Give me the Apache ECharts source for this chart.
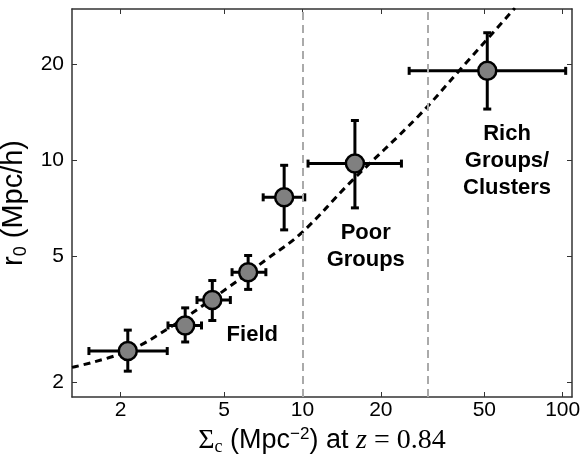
<!DOCTYPE html>
<html>
<head>
<meta charset="utf-8">
<script src="https://cdn.jsdelivr.net/npm/echarts@6/dist/echarts.min.js"></script>
<style>
  html, body { margin: 0; padding: 0; background: #fff; }
  #main { width: 582px; height: 454px; }
</style>
</head>
<body>
<div id="main"></div>
<script>
var chartDom = document.getElementById('main');
var myChart = echarts.init(chartDom);
var option;

// axis ranges and tick values (data units, log axes)
let xRange = [1.3, 108.6];
let yRange = [1.8, 29.8];
let xTicks = [2, 5, 10, 20, 50, 100];
let yTicks = [2, 5, 10, 20];

// measured points with error bars
let sigma   = [2.13, 3.54, 4.50, 6.18, 8.50, 15.9, 51.3];
let sigmaLo = [1.51, 3.04, 3.93, 5.36, 7.06, 10.5, 25.7];
let sigmaHi = [3.02, 4.09, 5.28, 7.23, 10.2, 24.0, 102.7];
let r0      = [2.51, 3.02, 3.63, 4.44, 7.63, 9.74, 19.05];
let r0Lo    = [2.17, 2.68, 3.13, 3.92, 6.03, 7.07, 14.45];
let r0Hi    = [2.92, 3.43, 4.18, 5.01, 9.62, 13.3, 25.1];

// dashed fit curve
let fitSigma = [1.30, 2.13, 3.18, 4.50, 7.27, 9.91, 15.2, 27.8, 40.3, 65.5];
let fitR0    = [2.23, 2.51, 3.02, 3.66, 4.87, 5.90, 8.47, 13.7, 19.2, 30.0];

// environment boundaries and region labels
let boundaries = [10, 30];
let regionNames = ['Field', 'Poor\nGroups', 'Rich\nGroups/\nClusters'];
let regionSigma = [6.41, 17.5, 61.1];
let regionR0    = [2.83, 5.35, 9.95];

const lg = Math.log10;
const sans = 'Liberation Sans, Arial, Helvetica, sans-serif';
const serif = 'Liberation Serif, DejaVu Serif, serif';
const fmt = function (v) { return String(Math.round(Math.pow(10, v))); };

let errData = [];
let ptData = [];
for (var i = 0; i < sigma.length; i++) {
  errData.push([lg(sigma[i]), lg(r0[i]), lg(sigmaLo[i]), lg(sigmaHi[i]), lg(r0Lo[i]), lg(r0Hi[i])]);
  ptData.push([lg(sigma[i]), lg(r0[i])]);
}
let fitData = fitSigma.map(function (s, i) { return [lg(s), lg(fitR0[i])]; });
let labelData = regionNames.map(function (n, i) {
  return { name: n, value: [lg(regionSigma[i]), lg(regionR0[i])] };
});

function renderErr(params, api) {
  const c = api.coord([api.value(0), api.value(1)]);
  const l = api.coord([api.value(2), api.value(1)]);
  const r = api.coord([api.value(3), api.value(1)]);
  const b = api.coord([api.value(0), api.value(4)]);
  const t = api.coord([api.value(0), api.value(5)]);
  const cap = 4;
  const style = { stroke: '#000', lineWidth: 3 };
  const seg = function (x1, y1, x2, y2) {
    return { type: 'line', shape: { x1: x1, y1: y1, x2: x2, y2: y2 }, style: style };
  };
  return {
    type: 'group',
    children: [
      seg(l[0], c[1], r[0], c[1]),
      seg(l[0], c[1] - cap, l[0], c[1] + cap),
      seg(r[0], c[1] - cap, r[0], c[1] + cap),
      seg(c[0], t[1], c[0], b[1]),
      seg(c[0] - cap, t[1], c[0] + cap, t[1]),
      seg(c[0] - cap, b[1], c[0] + cap, b[1])
    ]
  };
}

const axisLine = { show: true, lineStyle: { color: '#333', width: 1.5 } };
const tickStyle = { show: true, inside: true, length: 5, lineStyle: { color: '#333', width: 1 } };

option = {
  animation: false,
  grid: { left: 72, right: 10, top: 9, bottom: 57, outerBoundsMode: 'none', containLabel: false },
  xAxis: [
    {
      type: 'value', position: 'bottom',
      min: lg(xRange[0]), max: lg(xRange[1]),
      axisLine: axisLine,
      axisTick: Object.assign({ customValues: xTicks.map(lg) }, tickStyle),
      axisLabel: {
        customValues: xTicks.map(lg), formatter: fmt, margin: 3,
        fontSize: 21, fontFamily: sans, color: '#000'
      },
      splitLine: { show: false },
      name: '{sg|Σ}{sub|c}{t| (Mpc}{sup|−2}{t|) at }{z|z}{s| = 0.84}',
      nameLocation: 'middle', nameGap: 21,
      nameTextStyle: {
        color: '#000',
        rich: {
          sg: { fontFamily: serif, fontSize: 28, lineHeight: 30, verticalAlign: 'middle' },
          sub: { fontFamily: serif, fontSize: 18, lineHeight: 16, verticalAlign: 'bottom' },
          t: { fontFamily: sans, fontSize: 27, lineHeight: 30, verticalAlign: 'middle' },
          sup: { fontFamily: sans, fontSize: 17, lineHeight: 16, verticalAlign: 'top' },
          z: { fontFamily: serif, fontStyle: 'italic', fontSize: 28, lineHeight: 30, verticalAlign: 'middle' },
          s: { fontFamily: serif, fontSize: 28, lineHeight: 30, verticalAlign: 'middle' }
        }
      }
    },
    {
      type: 'value', position: 'top',
      min: lg(xRange[0]), max: lg(xRange[1]),
      axisLine: axisLine,
      axisTick: Object.assign({ customValues: xTicks.map(lg) }, tickStyle),
      axisLabel: { show: false },
      splitLine: { show: false }
    }
  ],
  yAxis: [
    {
      type: 'value', position: 'left',
      min: lg(yRange[0]), max: lg(yRange[1]),
      axisLine: axisLine,
      axisTick: Object.assign({ customValues: yTicks.map(lg) }, tickStyle),
      axisLabel: {
        customValues: yTicks.map(lg), formatter: fmt, margin: 8,
        fontSize: 21, fontFamily: sans, color: '#000'
      },
      splitLine: { show: false },
      name: '{t|r}{sub|0}{t| (Mpc/h)}',
      nameLocation: 'middle', nameGap: 31, nameRotate: 90,
      nameTextStyle: {
        color: '#000',
        rich: {
          t: { fontFamily: sans, fontSize: 29, lineHeight: 32, verticalAlign: 'middle' },
          sub: { fontFamily: sans, fontSize: 18, lineHeight: 17, verticalAlign: 'bottom' }
        }
      }
    },
    {
      type: 'value', position: 'right',
      min: lg(yRange[0]), max: lg(yRange[1]),
      axisLine: axisLine,
      axisTick: Object.assign({ customValues: yTicks.map(lg) }, tickStyle),
      axisLabel: { show: false },
      splitLine: { show: false }
    }
  ],
  series: [
    {
      type: 'line',
      data: [],
      z: 1,
      markLine: {
        silent: true,
        symbol: 'none',
        label: { show: false },
        lineStyle: { color: '#aaa', width: 2, type: [8, 5] },
        data: boundaries.map(function (b) { return { xAxis: lg(b) }; })
      }
    },
    {
      type: 'line',
      data: fitData,
      smooth: 0.4,
      showSymbol: false,
      z: 2,
      lineStyle: { color: '#000', width: 3, type: [7, 5] }
    },
    {
      type: 'custom',
      data: errData,
      renderItem: renderErr,
      z: 3
    },
    {
      type: 'scatter',
      data: ptData,
      symbolSize: 18,
      z: 4,
      itemStyle: { color: '#808080', borderColor: '#000', borderWidth: 2.5, opacity: 1 }
    },
    {
      type: 'scatter',
      data: labelData,
      symbolSize: 0,
      z: 5,
      itemStyle: { opacity: 1 },
      label: {
        show: true, position: 'inside',
        formatter: function (p) { return p.name; },
        fontFamily: sans, fontWeight: 'bold', fontSize: 22, lineHeight: 27,
        color: '#000', textBorderWidth: 0, align: 'center'
      }
    }
  ]
};

option && myChart.setOption(option);
</script>
</body>
</html>
